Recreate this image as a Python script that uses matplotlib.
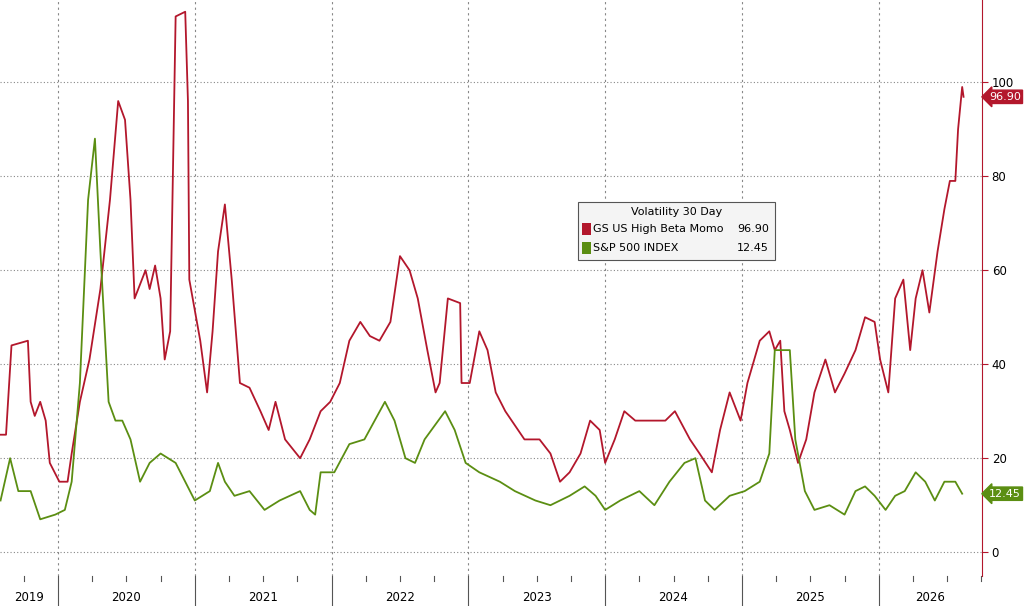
import matplotlib.pyplot as plt
from matplotlib.patches import Rectangle

red_t = [2019.58, 2019.62, 2019.66, 2019.78, 2019.80, 2019.83, 2019.87, 2019.91, 2019.94, 2020.01,
         2020.07, 2020.10, 2020.16, 2020.23, 2020.31, 2020.38, 2020.44, 2020.49, 2020.53, 2020.56,
         2020.64, 2020.67, 2020.71, 2020.75, 2020.78, 2020.82, 2020.86, 2020.93, 2020.95, 2020.96,
         2021.04, 2021.09, 2021.13, 2021.17, 2021.22, 2021.27, 2021.33, 2021.40, 2021.48, 2021.54,
         2021.59, 2021.66, 2021.77, 2021.84, 2021.92, 2021.99, 2022.06, 2022.13, 2022.21, 2022.28,
         2022.35, 2022.43, 2022.50, 2022.57, 2022.63, 2022.70, 2022.76, 2022.79, 2022.85, 2022.94,
         2022.95, 2023.01, 2023.08, 2023.14, 2023.20, 2023.27, 2023.34, 2023.41, 2023.52, 2023.60,
         2023.67, 2023.74, 2023.82, 2023.89, 2023.96, 2024.00, 2024.07, 2024.14, 2024.22, 2024.33,
         2024.44, 2024.51, 2024.62, 2024.69, 2024.78, 2024.84, 2024.91, 2024.99, 2025.04, 2025.13,
         2025.20, 2025.24, 2025.28, 2025.31, 2025.35, 2025.41, 2025.47, 2025.53, 2025.61, 2025.68,
         2025.75, 2025.83, 2025.90, 2025.97, 2026.01, 2026.07, 2026.12, 2026.18, 2026.23, 2026.27,
         2026.32, 2026.37, 2026.43, 2026.48, 2026.52, 2026.56, 2026.58, 2026.61, 2026.62]
red_v = [25, 25, 44, 45, 32, 29, 32, 28, 19, 15,
         15, 21, 32, 41, 56, 75, 96, 92, 75, 54,
         60, 56, 61, 54, 41, 47, 114, 115, 96, 58,
         45, 34, 47, 64, 74, 58, 36, 35, 30, 26,
         32, 24, 20, 24, 30, 32, 36, 45, 49, 46,
         45, 49, 63, 60, 54, 43, 34, 36, 54, 53,
         36, 36, 47, 43, 34, 30, 27, 24, 24, 21,
         15, 17, 21, 28, 26, 19, 24, 30, 28, 28,
         28, 30, 24, 21, 17, 26, 34, 28, 36, 45,
         47, 43, 45, 30, 26, 19, 24, 34, 41, 34,
         38, 43, 50, 49, 41, 34, 54, 58, 43, 54,
         60, 51, 64, 73, 79, 79, 90, 99, 96.9]

green_t = [2019.58, 2019.65, 2019.71, 2019.80, 2019.87, 2019.98, 2020.05, 2020.10, 2020.16, 2020.22,
           2020.27, 2020.31, 2020.37, 2020.42, 2020.47, 2020.53, 2020.60, 2020.67, 2020.75, 2020.86,
           2020.93, 2021.00, 2021.11, 2021.17, 2021.22, 2021.29, 2021.40, 2021.51, 2021.62, 2021.77,
           2021.84, 2021.88, 2021.92, 2022.02, 2022.13, 2022.24, 2022.39, 2022.46, 2022.54, 2022.61,
           2022.68, 2022.83, 2022.90, 2022.98, 2023.08, 2023.23, 2023.34, 2023.49, 2023.60, 2023.74,
           2023.85, 2023.93, 2024.00, 2024.11, 2024.25, 2024.36, 2024.47, 2024.58, 2024.66, 2024.73,
           2024.80, 2024.91, 2025.02, 2025.13, 2025.20, 2025.24, 2025.35, 2025.39, 2025.46, 2025.53,
           2025.64, 2025.75, 2025.83, 2025.90, 2025.97, 2026.05, 2026.12, 2026.19, 2026.27, 2026.34,
           2026.41, 2026.48, 2026.56, 2026.61]
green_v = [11, 20, 13, 13, 7, 8, 9, 15, 36, 75,
           88, 64, 32, 28, 28, 24, 15, 19, 21, 19,
           15, 11, 13, 19, 15, 12, 13, 9, 11, 13,
           9, 8, 17, 17, 23, 24, 32, 28, 20, 19,
           24, 30, 26, 19, 17, 15, 13, 11, 10, 12,
           14, 12, 9, 11, 13, 10, 15, 19, 20, 11,
           9, 12, 13, 15, 21, 43, 43, 24, 13, 9,
           10, 8, 13, 14, 12, 9, 12, 13, 17, 15,
           11, 15, 15, 12.45]

years = [2019, 2020, 2021, 2022, 2023, 2024, 2025, 2026]
red_c = '#b3172c'
green_c = '#5b8e12'
x0, x1 = 2019.576, 2026.755

fig = plt.figure(figsize=(10.24, 6.06), dpi=100)
ax = fig.add_axes([0, 0.05, 0.959, 0.95])
ax.plot(red_t, red_v, color=red_c, lw=1.3, zorder=3)
ax.plot(green_t, green_v, color=green_c, lw=1.3, zorder=3)
ax.set_xlim(x0, x1)
ax.set_ylim(-5, 117.5)

for y in range(0, 101, 20):
    ax.axhline(y, color='#888888', ls=(0, (1, 2)), lw=0.8, zorder=1)
for yr in years[1:]:
    ax.axvline(yr, color='#888888', ls=(0, (2, 3)), lw=0.8, zorder=1)

ax.yaxis.tick_right()
ax.set_yticks(range(0, 101, 20))
ax.tick_params(axis='y', length=4, color=red_c, labelsize=8.5, pad=3)
ax.set_xticks([])
for s in ['top', 'left', 'bottom']:
    ax.spines[s].set_visible(False)
ax.spines['right'].set_color(red_c)

# year labels and separators below the plot
for yr in years:
    mid = (x0 + 2020) / 2 if yr == 2019 else (yr + min(yr + 1, x1)) / 2
    ax.text(mid, -9.7, str(yr), ha='center', va='center', fontsize=8.5, clip_on=False)
    if yr > 2019:
        ax.plot([yr, yr], [-5, -11.5], color='#555555', lw=0.8, clip_on=False)
    for q in (0.25, 0.5, 0.75):
        if x0 < yr + q < x1:
            ax.plot([yr + q, yr + q], [-5, -6.2], color='#555555', lw=0.8, clip_on=False)

for val, col in ((96.9, red_c), (12.45, green_c)):
    ax.annotate('%.2f' % val, xy=(1.0, val), xycoords=('axes fraction', 'data'), xytext=(5, 0),
                textcoords='offset points', ha='left', va='center', fontsize=8, color='white',
                bbox=dict(boxstyle='larrow,pad=0.15', fc=col, ec=col))

# legend box
lx, ly, lw_, lh = 0.589, 0.549, 0.2, 0.1
ax.add_patch(Rectangle((lx, ly), lw_, lh, transform=ax.transAxes, fc='#f4f4f4',
                       ec='#555555', lw=0.8, zorder=4))
ax.text(lx + lw_ / 2, ly + 0.083, 'Volatility 30 Day', transform=ax.transAxes, ha='center',
        va='center', fontsize=8, zorder=5)
rows = [('GS US High Beta Momo', red_c, 96.9, ly + 0.053),
        ('S&P 500 INDEX', green_c, 12.45, ly + 0.02)]
for name, col, val, yy in rows:
    ax.add_patch(Rectangle((lx + 0.004, yy - 0.01), 0.009, 0.02, transform=ax.transAxes,
                           fc=col, ec='none', zorder=5))
    ax.text(lx + 0.015, yy, name, transform=ax.transAxes, va='center', fontsize=8, zorder=5)
    ax.text(lx + lw_ - 0.006, yy, '%.2f' % val, transform=ax.transAxes, va='center',
            ha='right', fontsize=8, zorder=5)

fig.savefig('out.png', dpi=100)
